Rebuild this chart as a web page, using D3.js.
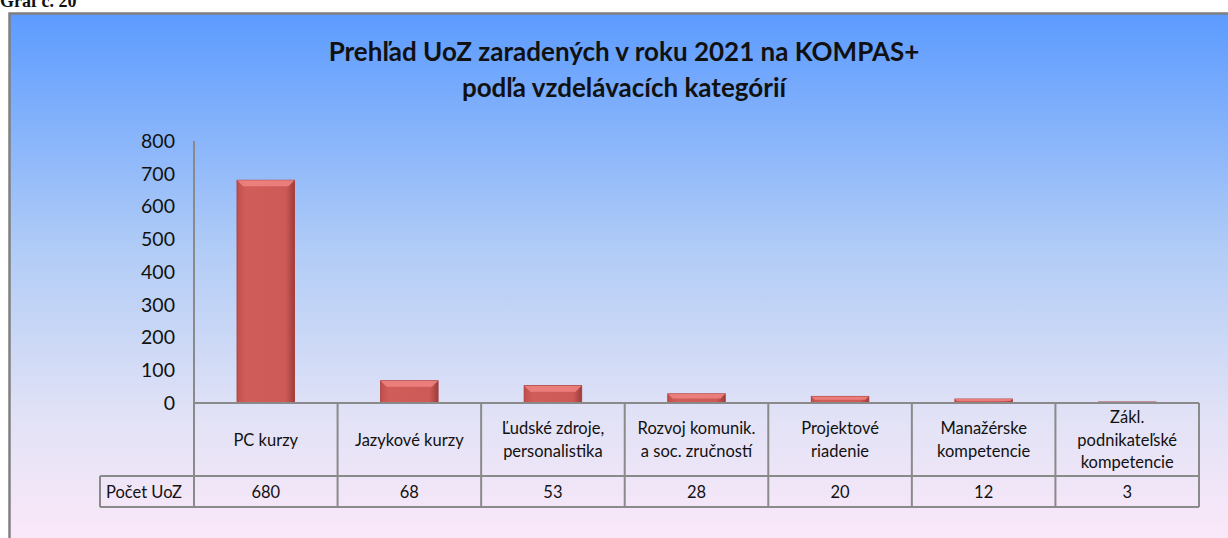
<!DOCTYPE html>
<html>
<head>
<meta charset="utf-8">
<script src="https://cdn.jsdelivr.net/npm/d3@7"></script>
<style>
  body { margin: 0; background: #fff; }
  svg { display: block; }
  text { font-family: Lato, "Open Sans", sans-serif; fill: #111; }
</style>
</head>
<body>
<div class="chart"></div>
<script>
// Data
const categories = [
  "PC kurzy",
  "Jazykové kurzy",
  "Ľudské zdroje,\npersonalistika",
  "Rozvoj komunik.\na soc. zručností",
  "Projektové\nriadenie",
  "Manažérske\nkompetencie",
  "Zákl.\npodnikateľské\nkompetencie"
];
const counts = [680, 68, 53, 28, 20, 12, 3];
const yTicks = [0, 100, 200, 300, 400, 500, 600, 700, 800];
const seriesName = "Počet UoZ";
const titleLines = ["Prehľad UoZ zaradených v roku 2021 na KOMPAS+", "podľa vzdelávacích kategórií"];

const W = 1228, H = 538;
const svg = d3.select(".chart").append("svg")
  .attr("width", W)
  .attr("height", H);

const defs = svg.append("defs");
const bg = defs.append("linearGradient").attr("id", "bg")
  .attr("x1", 0).attr("y1", 0).attr("x2", 0).attr("y2", 1);
bg.append("stop").attr("offset", "0").attr("stop-color", "#5c9bff");
bg.append("stop").attr("offset", "0.45").attr("stop-color", "#b3cdf6");
bg.append("stop").attr("offset", "0.75").attr("stop-color", "#e2e2f6");
bg.append("stop").attr("offset", "1").attr("stop-color", "#fde9f9");

const barGrad = defs.append("linearGradient").attr("id", "bar")
  .attr("x1", 0).attr("y1", 0).attr("x2", 1).attr("y2", 0);
barGrad.append("stop").attr("offset", "0").attr("stop-color", "#c24f4c");
barGrad.append("stop").attr("offset", "0.15").attr("stop-color", "#d05d5a");
barGrad.append("stop").attr("offset", "0.85").attr("stop-color", "#cd5a57");
barGrad.append("stop").attr("offset", "1").attr("stop-color", "#9e3c3a");

// "Graf č. 20" caption, cut at the top as in the source page
svg.append("text")
  .attr("x", 0).attr("y", 7)
  .style("font-family", "'Liberation Serif', serif")
  .attr("font-weight", "bold")
  .attr("font-size", 18)
  .text("Graf č. 20");

// chart area background + border
svg.append("rect")
  .attr("x", 10).attr("y", 14)
  .attr("width", W).attr("height", H)
  .attr("fill", "url(#bg)");
svg.append("path")
  .attr("d", `M9.5,${H} V13.5 H${W}`)
  .attr("fill", "none")
  .attr("stroke", "#808080")
  .attr("stroke-width", 2.5);

// title
svg.append("g").selectAll("text")
  .data(titleLines)
  .join("text")
  .attr("x", 624)
  .attr("y", (d, i) => 61 + i * 36)
  .attr("text-anchor", "middle")
  .attr("font-weight", "bold")
  .attr("font-size", 26)
  .text(d => d);

// scales
const plotLeft = 194, plotRight = 1199;
const xScale = d3.scaleBand()
  .domain(categories)
  .range([plotLeft, plotRight]);

const yScale = d3.scaleLinear()
  .domain([0, 800])
  .range([403, 141]);

// y axis
const yAxis = d3.axisLeft(yScale)
  .tickValues(yTicks)
  .tickSize(0)
  .tickPadding(19);
const yg = svg.append("g")
  .attr("transform", `translate(${plotLeft},0)`)
  .call(yAxis);
yg.select(".domain").remove();
yg.selectAll("text")
  .attr("font-size", 19.5)
  .attr("dy", "0.32em")
  .style("font-family", "Lato, 'Open Sans', sans-serif")
  .attr("fill", "#111");

// bars
const bw = xScale.bandwidth() * 0.4;
const bars = svg.append("g").selectAll("g")
  .data(counts.map((v, i) => ({ cat: categories[i], v })))
  .join("g")
  .attr("transform", d => `translate(${xScale(d.cat) + (xScale.bandwidth() - bw) / 2},0)`);

bars.append("rect")
  .attr("x", 0)
  .attr("y", d => yScale(d.v))
  .attr("width", bw)
  .attr("height", d => yScale(0) - yScale(d.v))
  .attr("fill", "url(#bar)")
  .attr("stroke", "#a8403e")
  .attr("stroke-width", 1);

// top bevel highlight
bars.append("path")
  .attr("d", d => {
    const y0 = yScale(d.v), h = Math.min(6, (yScale(0) - y0) / 2);
    return `M0,${y0} H${bw} L${bw - h},${y0 + h} H${h} Z`;
  })
  .attr("fill", "#f08583")
  .attr("opacity", 0.85);

// table
const tableTop = 403, rowSplit = 476, tableBottom = 507, tableLeft = 100;
const grid = svg.append("g")
  .attr("stroke", "#8a8a8a")
  .attr("stroke-width", 2)
  .attr("fill", "none");

grid.append("line")
  .attr("x1", plotLeft).attr("x2", plotRight)
  .attr("y1", tableTop).attr("y2", tableTop);
grid.append("line")
  .attr("x1", tableLeft).attr("x2", plotRight)
  .attr("y1", rowSplit).attr("y2", rowSplit);
grid.append("line")
  .attr("x1", tableLeft).attr("x2", plotRight)
  .attr("y1", tableBottom).attr("y2", tableBottom);
grid.append("line")
  .attr("x1", tableLeft).attr("x2", tableLeft)
  .attr("y1", rowSplit).attr("y2", tableBottom);
// y axis line runs down through the table
grid.append("line")
  .attr("x1", plotLeft).attr("x2", plotLeft)
  .attr("y1", 141).attr("y2", tableBottom);
grid.selectAll(".col")
  .data(categories)
  .join("line")
  .attr("class", "col")
  .attr("x1", d => xScale(d) + xScale.bandwidth())
  .attr("x2", d => xScale(d) + xScale.bandwidth())
  .attr("y1", tableTop).attr("y2", tableBottom);

// category labels
const lineH = 22.5;
svg.append("g").selectAll("text")
  .data(categories)
  .join("text")
  .attr("text-anchor", "middle")
  .attr("font-size", 16.5)
  .each(function(d) {
    const lines = d.split("\n");
    const cx = xScale(d) + xScale.bandwidth() / 2;
    const cy = (tableTop + rowSplit) / 2;
    d3.select(this).selectAll("tspan")
      .data(lines)
      .join("tspan")
      .attr("x", cx)
      .attr("y", (l, i) => cy + (i - (lines.length - 1) / 2) * lineH + 6)
      .text(l => l);
  });

// value row
svg.append("text")
  .attr("x", 106)
  .attr("y", (rowSplit + tableBottom) / 2 + 6)
  .attr("font-size", 16.5)
  .text(seriesName);

svg.append("g").selectAll("text")
  .data(counts)
  .join("text")
  .attr("x", (d, i) => xScale(categories[i]) + xScale.bandwidth() / 2)
  .attr("y", (rowSplit + tableBottom) / 2 + 6)
  .attr("text-anchor", "middle")
  .attr("font-size", 16.5)
  .text(d => d);
</script>
</body>
</html>
